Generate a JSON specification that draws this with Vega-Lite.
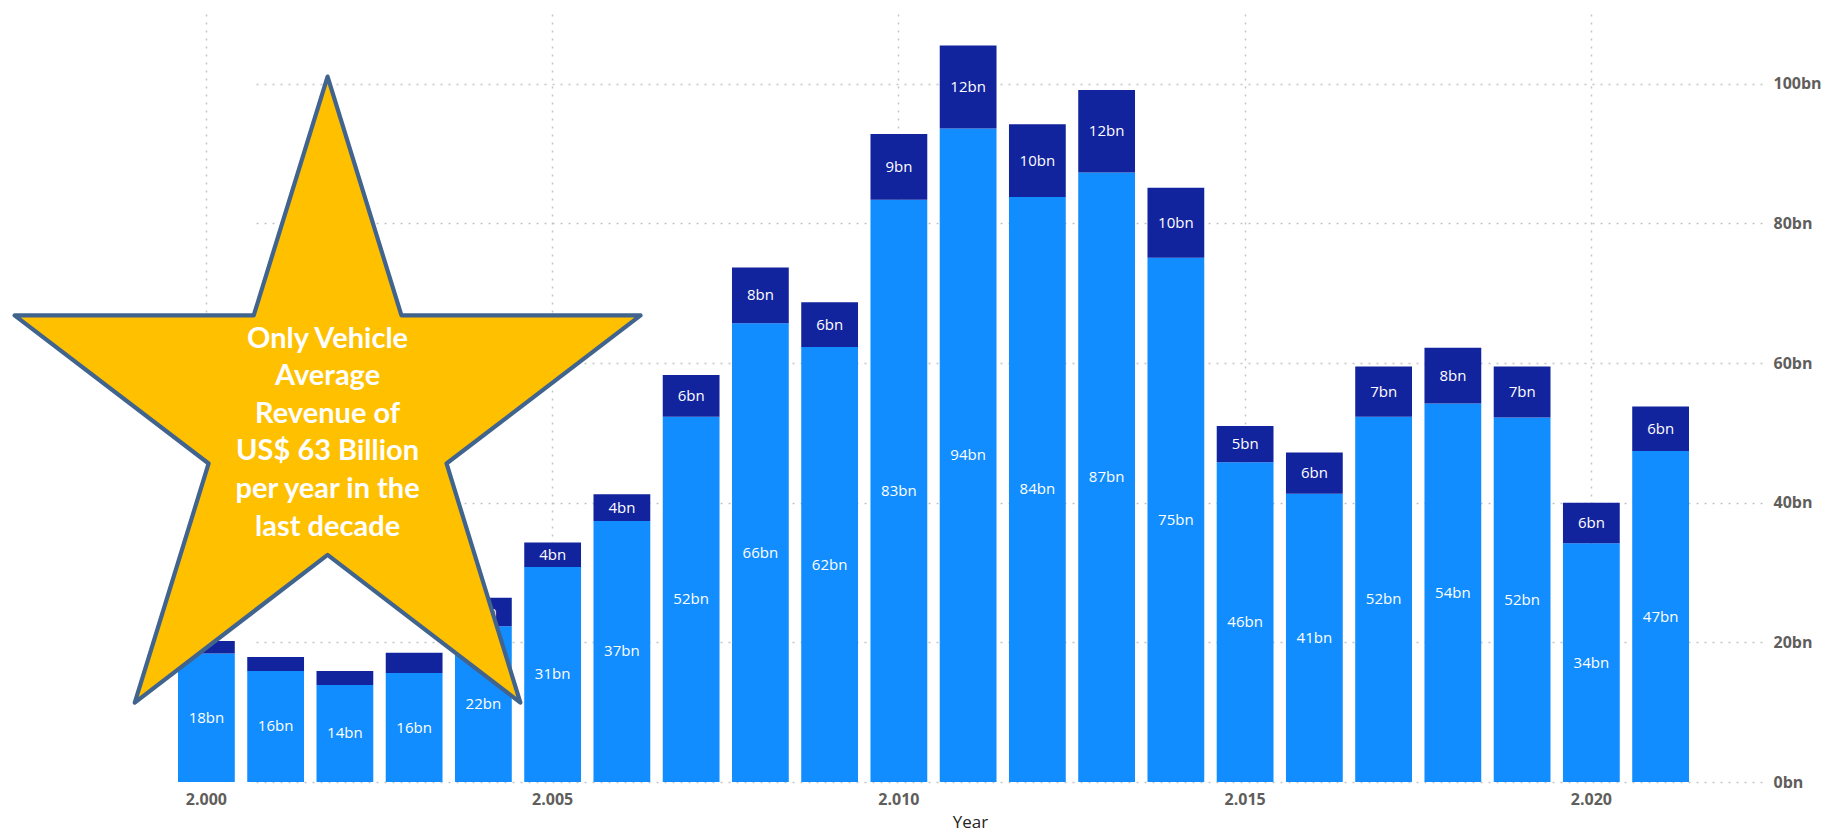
{
  "$schema": "https://vega.github.io/schema/vega-lite/v6.json",
  "width": 1584,
  "height": 768,
  "autosize": "none",
  "padding": {"left": 178, "top": 14, "right": 62, "bottom": 50},
  "background": "white",
  "config": {"view": {"stroke": null}, "font": "Open Sans"},
  "layer": [
    {
      "data": {
        "values": [
          {"Year": 2000, "Type": "Vehicle", "Value": 18.4}, {"Year": 2000, "Type": "Other", "Value": 1.8},
          {"Year": 2001, "Type": "Vehicle", "Value": 15.9}, {"Year": 2001, "Type": "Other", "Value": 2.0},
          {"Year": 2002, "Type": "Vehicle", "Value": 13.9}, {"Year": 2002, "Type": "Other", "Value": 2.0},
          {"Year": 2003, "Type": "Vehicle", "Value": 15.6}, {"Year": 2003, "Type": "Other", "Value": 2.9},
          {"Year": 2004, "Type": "Vehicle", "Value": 22.3}, {"Year": 2004, "Type": "Other", "Value": 4.1},
          {"Year": 2005, "Type": "Vehicle", "Value": 30.8}, {"Year": 2005, "Type": "Other", "Value": 3.5},
          {"Year": 2006, "Type": "Vehicle", "Value": 37.4}, {"Year": 2006, "Type": "Other", "Value": 3.8},
          {"Year": 2007, "Type": "Vehicle", "Value": 52.3}, {"Year": 2007, "Type": "Other", "Value": 6.0},
          {"Year": 2008, "Type": "Vehicle", "Value": 65.7}, {"Year": 2008, "Type": "Other", "Value": 8.0},
          {"Year": 2009, "Type": "Vehicle", "Value": 62.3}, {"Year": 2009, "Type": "Other", "Value": 6.4},
          {"Year": 2010, "Type": "Vehicle", "Value": 83.4}, {"Year": 2010, "Type": "Other", "Value": 9.4},
          {"Year": 2011, "Type": "Vehicle", "Value": 93.6}, {"Year": 2011, "Type": "Other", "Value": 11.9},
          {"Year": 2012, "Type": "Vehicle", "Value": 83.8}, {"Year": 2012, "Type": "Other", "Value": 10.4},
          {"Year": 2013, "Type": "Vehicle", "Value": 87.3}, {"Year": 2013, "Type": "Other", "Value": 11.8},
          {"Year": 2014, "Type": "Vehicle", "Value": 75.1}, {"Year": 2014, "Type": "Other", "Value": 10.0},
          {"Year": 2015, "Type": "Vehicle", "Value": 45.8}, {"Year": 2015, "Type": "Other", "Value": 5.2},
          {"Year": 2016, "Type": "Vehicle", "Value": 41.3}, {"Year": 2016, "Type": "Other", "Value": 5.9},
          {"Year": 2017, "Type": "Vehicle", "Value": 52.3}, {"Year": 2017, "Type": "Other", "Value": 7.2},
          {"Year": 2018, "Type": "Vehicle", "Value": 54.2}, {"Year": 2018, "Type": "Other", "Value": 8.0},
          {"Year": 2019, "Type": "Vehicle", "Value": 52.2}, {"Year": 2019, "Type": "Other", "Value": 7.3},
          {"Year": 2020, "Type": "Vehicle", "Value": 34.2}, {"Year": 2020, "Type": "Other", "Value": 5.8},
          {"Year": 2021, "Type": "Vehicle", "Value": 47.4}, {"Year": 2021, "Type": "Other", "Value": 6.4}
        ]
      },
      "layer": [
        {
          "mark": {"type": "bar"},
          "encoding": {
            "x": {
              "field": "Year",
              "type": "ordinal",
              "scale": {"range": [0, 1511], "paddingInner": 0.18, "paddingOuter": 0},
              "axis": {
                "values": [2000, 2005, 2010, 2015, 2020],
                "labelExpr": "replace(format(datum.value, ','), ',', '.')",
                "title": "Year",
                "labelAngle": 0,
                "domain": false,
                "ticks": false,
                "grid": true,
                "gridDash": [2, 6],
                "gridColor": "#C4C4C4",
                "gridWidth": 1.5,
                "bandPosition": 0.5,
                "labelFont": "Open Sans",
                "labelFontSize": 16,
                "labelFontWeight": "bold",
                "labelColor": "#605E5C",
                "labelPadding": 9,
                "titleFont": "Open Sans",
                "titleFontSize": 17,
                "titleFontWeight": "normal",
                "titleColor": "#252423",
                "titleX": 792,
                "titlePadding": 7
              }
            },
            "y": {
              "field": "Value",
              "type": "quantitative",
              "stack": "zero",
              "scale": {"domain": [0, 110], "nice": false},
              "axis": {
                "orient": "right",
                "values": [0, 20, 40, 60, 80, 100],
                "labelExpr": "datum.value + 'bn'",
                "title": null,
                "domain": false,
                "ticks": false,
                "grid": true,
                "gridDash": [2, 6],
                "gridColor": "#C4C4C4",
                "gridWidth": 1.5,
                "labelFont": "Open Sans",
                "labelFontSize": 16,
                "labelFontWeight": "bold",
                "labelColor": "#605E5C",
                "labelPadding": 11
              }
            },
            "color": {
              "field": "Type",
              "type": "nominal",
              "scale": {"domain": ["Vehicle", "Other"], "range": ["#118DFF", "#12239E"]},
              "legend": null
            },
            "order": {"field": "Type", "sort": "descending"}
          }
        },
        {
          "transform": [{"filter": "datum.Type == 'Vehicle' || datum.Value >= 3"}],
          "mark": {
            "type": "text",
            "color": "white",
            "fontSize": 15,
            "font": "Open Sans",
            "baseline": "middle",
            "text": {"expr": "format(datum.Value, '.0f') + 'bn'"}
          },
          "encoding": {
            "x": {"field": "Year", "type": "ordinal"},
            "y": {"field": "Value", "type": "quantitative", "stack": "zero", "bandPosition": 0.5},
            "detail": {"field": "Type"},
            "order": {"field": "Type", "sort": "descending"}
          }
        }
      ]
    },
    {
      "data": {"values": [{}]},
      "layer": [
        {
          "mark": {
            "type": "point",
            "shape": "M0,-1L0.236,-0.237L1,-0.237L0.38,0.236L0.616,1L0,0.528L-0.616,1L-0.38,0.236L-1,-0.237L-0.236,-0.237Z",
            "size": 391876,
            "filled": true,
            "fill": "#FFC000",
            "stroke": "#41648F",
            "strokeWidth": 4.2,
            "strokeJoin": "round",
            "opacity": 1,
            "fillOpacity": 1
          },
          "encoding": {
            "x": {
              "datum": 2001.75,
              "type": "quantitative",
              "scale": {"domain": [1999.59, 2021.41], "range": [0, 1511], "nice": false, "zero": false},
              "axis": null
            },
            "y": {"datum": 56.2, "type": "quantitative"}
          }
        },
        {
          "mark": {
            "type": "text",
            "text": ["Only Vehicle", "Average", "Revenue of", "US$ 63 Billion", "per year in the", "last decade"],
            "font": "Lato",
            "fontWeight": "bold",
            "fontSize": 29,
            "lineHeight": 37.6,
            "color": "white",
            "align": "center",
            "baseline": "middle"
          },
          "encoding": {
            "x": {"datum": 2001.75, "type": "quantitative"},
            "y": {"datum": 63.5, "type": "quantitative"}
          }
        }
      ]
    }
  ],
  "resolve": {"scale": {"x": "independent"}, "axis": {"x": "independent"}}
}
